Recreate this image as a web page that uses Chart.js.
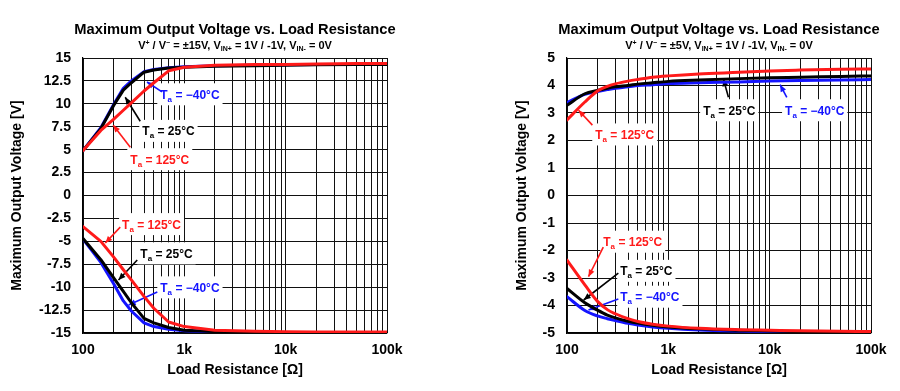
<!DOCTYPE html>
<html>
<head>
<meta charset="utf-8">
<script src="https://cdn.jsdelivr.net/npm/chart.js@4.4.1/dist/chart.umd.min.js"></script>
<style>
  html, body { margin: 0; padding: 0; background: #fff; }
  #wrap { position: relative; width: 900px; height: 391px; }
  .cell { position: absolute; top: 0; width: 450px; height: 391px; }
</style>
</head>
<body>
<div id="wrap">
  <div class="cell" style="left:0"><canvas id="c1" width="450" height="391"></canvas></div>
  <div class="cell" style="left:450px"><canvas id="c2" width="450" height="391"></canvas></div>
</div>
<script>
// ---------------- DATA ----------------
const resistance = [100, 150, 200, 250, 300, 400, 500, 700, 1000, 2000, 5000, 10000, 20000, 50000, 100000];

// Left chart: V+/V- = ±15V
const left_pos_m40 = [4.9, 7.4, 9.9, 11.7, 12.5, 13.5, 13.75, 13.95, 14.05, 14.15, 14.2, 14.25, 14.3, 14.3, 14.35];
const left_pos_25  = [4.9, 7.3, 9.8, 11.5, 12.3, 13.45, 13.7, 13.9, 14.0, 14.1, 14.15, 14.2, 14.25, 14.3, 14.3];
const left_pos_125 = [4.9, 7.1, 8.3, 9.3, 10.1, 11.4, 12.3, 13.6, 14.0, 14.2, 14.3, 14.3, 14.35, 14.4, 14.4];
const left_neg_m40 = [-4.75, -7.3, -9.6, -11.5, -12.6, -13.9, -14.3, -14.6, -14.75, -14.9, -14.95, -14.97, -14.97, -14.97, -14.97];
const left_neg_25  = [-4.7, -7.0, -8.95, -10.45, -11.7, -13.4, -13.9, -14.4, -14.7, -14.85, -14.9, -14.95, -14.95, -14.95, -14.95];
const left_neg_125 = [-3.4, -5.0, -6.7, -8.1, -9.2, -11.0, -12.3, -13.8, -14.3, -14.7, -14.8, -14.85, -14.9, -14.9, -14.9];

// Right chart: V+/V- = ±5V
const right_pos_m40 = [3.38, 3.68, 3.78, 3.85, 3.9, 3.95, 4.0, 4.03, 4.07, 4.1, 4.13, 4.16, 4.18, 4.2, 4.22];
const right_pos_25  = [3.28, 3.7, 3.82, 3.9, 3.95, 4.0, 4.05, 4.1, 4.15, 4.2, 4.25, 4.28, 4.3, 4.33, 4.35];
const right_pos_125 = [2.75, 3.4, 3.8, 3.97, 4.06, 4.16, 4.22, 4.3, 4.35, 4.42, 4.48, 4.53, 4.56, 4.59, 4.6];
const right_neg_m40 = [-3.68, -4.18, -4.38, -4.48, -4.55, -4.65, -4.71, -4.78, -4.83, -4.89, -4.93, -4.95, -4.96, -4.97, -4.98];
const right_neg_25  = [-3.38, -3.9, -4.17, -4.35, -4.45, -4.57, -4.64, -4.72, -4.78, -4.85, -4.9, -4.93, -4.95, -4.96, -4.97];
const right_neg_125 = [-2.35, -3.25, -3.85, -4.15, -4.3, -4.48, -4.58, -4.68, -4.75, -4.83, -4.88, -4.9, -4.92, -4.94, -4.95];

// Ticks
const xTickValues = [100, 1000, 10000, 100000];
const xTickLabels = ['100', '1k', '10k', '100k'];
const yTicksLeft  = [15, 12.5, 10, 7.5, 5, 2.5, 0, -2.5, -5, -7.5, -10, -12.5, -15];
const yTicksRight = [5, 4, 3, 2, 1, 0, -1, -2, -3, -4, -5];

const tempLabels = ['−40°C', '25°C', '125°C'];

// ---------------- STYLE ----------------
const FONT = '"Liberation Sans", Arial, Helvetica, sans-serif';
const BLUE = '#1414ff', BLACK = '#000000', RED = '#ff1a1a';
const tempColors = [BLUE, BLACK, RED];

// Annotation placements (data coordinates: [resistance, voltage])
const annLeft = [
  { k: 0, at: [579, 11.04],  from: [602, 11.3],   to: [428, 12.38] },
  { k: 1, at: [385, 7.05],   from: [367, 8.1],    to: [261, 10.72] },
  { k: 2, at: [293, 3.96],   from: [293, 5.27],   to: [199, 7.67] },
  { k: 2, at: [243, -3.12],  from: [233, -3.45],  to: [166, -5.19] },
  { k: 1, at: [368, -6.31],  from: [343, -7.04],  to: [224, -9.22] },
  { k: 0, at: [579, -10.02], from: [541, -10.53], to: [282, -11.95] }
];
const annRight = [
  { k: 2, at: [190, 2.22],   from: [178, 2.56],   to: [130, 3.1] },
  { k: 1, at: [2206, 3.1],   from: [3919, 3.57],  to: [3499, 4.23] },
  { k: 0, at: [14190, 3.1],  from: [14760, 3.57], to: [12670, 4.03] },
  { k: 2, at: [228, -1.68],  from: [228, -1.88],  to: [163, -2.95] },
  { k: 1, at: [335, -2.74],  from: [321, -2.82],  to: [146, -3.8] },
  { k: 0, at: [335, -3.68],  from: [321, -3.76],  to: [163, -4.16] }
];

// ---------------- PLUGINS ----------------
function drawRich(ctx, parts, x, y, color) {
  let cx = x;
  ctx.fillStyle = color;
  ctx.textBaseline = 'alphabetic';
  ctx.textAlign = 'left';
  for (const p of parts) {
    ctx.font = 'bold ' + p.size + 'px ' + FONT;
    ctx.fillText(p.t, cx, y + (p.dy || 0));
    cx += ctx.measureText(p.t).width;
  }
  return cx - x;
}
function richWidth(ctx, parts) {
  let w = 0;
  for (const p of parts) {
    ctx.font = 'bold ' + p.size + 'px ' + FONT;
    w += ctx.measureText(p.t).width;
  }
  return w;
}

const titlePlugin = {
  id: 'titles',
  afterDraw(chart, args, opts) {
    const ctx = chart.ctx, ca = chart.chartArea;
    const cx = (ca.left + ca.right) / 2;
    ctx.save();
    ctx.font = 'bold 14.7px ' + FONT;
    ctx.fillStyle = '#000';
    ctx.textAlign = 'center';
    ctx.textBaseline = 'middle';
    ctx.fillText(opts.title, cx, 30);
    const w = richWidth(ctx, opts.sub);
    drawRich(ctx, opts.sub, cx - w / 2, 49, '#000');
    ctx.restore();
  }
};

const annotPlugin = {
  id: 'annot',
  beforeDatasetsDraw(chart, args, opts) {
    const ctx = chart.ctx, xs = chart.scales.x, ys = chart.scales.y;
    ctx.save();
    for (const a of opts.items) {
      const color = tempColors[a.k];
      const parts = [
        { t: 'T', size: 12 },
        { t: 'a', size: 8, dy: 3 },
        { t: ' = ' + tempLabels[a.k], size: 12 }
      ];
      const tx = xs.getPixelForValue(a.at[0]);
      const ty = ys.getPixelForValue(a.at[1]);
      const w = richWidth(ctx, parts);
      ctx.fillStyle = '#fff';
      ctx.fillRect(tx - 3, ty - 11, w + 6, 22);
      const x1 = xs.getPixelForValue(a.from[0]), y1 = ys.getPixelForValue(a.from[1]);
      const x2 = xs.getPixelForValue(a.to[0]), y2 = ys.getPixelForValue(a.to[1]);
      ctx.strokeStyle = color;
      ctx.lineWidth = 1.6;
      ctx.beginPath();
      ctx.moveTo(x1, y1);
      ctx.lineTo(x2, y2);
      ctx.stroke();
      const ang = Math.atan2(y2 - y1, x2 - x1);
      const L = 7, H = 3;
      ctx.fillStyle = color;
      ctx.beginPath();
      ctx.moveTo(x2, y2);
      ctx.lineTo(x2 - L * Math.cos(ang) + H * Math.sin(ang), y2 - L * Math.sin(ang) - H * Math.cos(ang));
      ctx.lineTo(x2 - L * Math.cos(ang) - H * Math.sin(ang), y2 - L * Math.sin(ang) + H * Math.cos(ang));
      ctx.closePath();
      ctx.fill();
      drawRich(ctx, parts, tx, ty + 4.5, color);
    }
    ctx.restore();
  }
};

// ---------------- BUILDERS ----------------
function xy(vals) { return resistance.map((r, i) => ({ x: r, y: vals[i] })); }

function makeChart(id, cfg) {
  const xGrid = [];
  for (let d = 100; d < 100000; d *= 10) for (let m = 1; m <= 9; m++) xGrid.push(d * m);
  xGrid.push(100000);

  const ds = (label, vals, color) => ({
    label, data: xy(vals), borderColor: color, backgroundColor: color,
    borderWidth: 3, pointRadius: 0, fill: false,
    tension: cfg.smooth ? 0.4 : 0, cubicInterpolationMode: cfg.smooth ? 'monotone' : 'default',
    borderJoinStyle: 'round', borderCapStyle: 'round'
  });

  return new Chart(document.getElementById(id), {
    type: 'line',
    data: {
      datasets: [
        ds('Ta = 125°C', cfg.pos125, RED),
        ds('Ta = 125°C (neg)', cfg.neg125, RED),
        ds('Ta = 25°C', cfg.pos25, BLACK),
        ds('Ta = 25°C (neg)', cfg.neg25, BLACK),
        ds('Ta = −40°C', cfg.posm40, BLUE),
        ds('Ta = −40°C (neg)', cfg.negm40, BLUE)
      ]
    },
    options: {
      responsive: false,
      devicePixelRatio: 1,
      animation: false,
      layout: { padding: { left: 0, right: cfg.padRight, top: 58, bottom: 0 } },
      plugins: {
        legend: { display: false },
        tooltip: { enabled: false },
        titles: { title: 'Maximum Output Voltage vs. Load Resistance', sub: cfg.sub },
        annot: { items: cfg.ann }
      },
      scales: {
        x: {
          type: 'logarithmic',
          min: 100, max: 100000,
          afterBuildTicks: (s) => { s.ticks = xGrid.map(v => ({ value: v })); },
          afterFit: (s) => { s.height = 58; },
          ticks: {
            autoSkip: false, maxRotation: 0, padding: 9, color: '#000',
            font: { family: FONT, size: 14, weight: 'bold' },
            callback: (v) => { const i = xTickValues.indexOf(v); return i >= 0 ? xTickLabels[i] : ''; }
          },
          grid: { color: '#111', lineWidth: 1, drawTicks: false },
          border: { color: '#000', width: 1.2 },
          title: {
            display: true, text: 'Load Resistance [Ω]', color: '#000',
            font: { family: FONT, size: 14, weight: 'bold' },
            padding: { top: 0, bottom: 12 }
          }
        },
        y: {
          min: cfg.yMin, max: cfg.yMax,
          afterBuildTicks: (s) => { s.ticks = cfg.yTicks.map(v => ({ value: v })); },
          afterFit: (s) => { s.width = cfg.yWidth; },
          ticks: {
            autoSkip: false, padding: 12, color: '#000',
            font: { family: FONT, size: 14, weight: 'bold' },
            callback: (v) => String(v)
          },
          grid: { color: '#111', lineWidth: 1, drawTicks: false },
          border: { color: '#000', width: 1.2 },
          title: {
            display: true, text: 'Maximum Output Voltage [V]', color: '#000',
            font: { family: FONT, size: 14, weight: 'bold' },
            padding: { top: cfg.yTitlePad, bottom: 0 }
          }
        }
      }
    },
    plugins: [titlePlugin, annotPlugin]
  });
}

function subParts(v) {
  return [
    { t: 'V', size: 11 }, { t: '+', size: 7, dy: -4 }, { t: ' / V', size: 11 }, { t: '−', size: 7, dy: -4 },
    { t: ' = ±' + v + 'V, V', size: 11 }, { t: 'IN+', size: 7, dy: 2 },
    { t: ' = 1V / -1V, V', size: 11 }, { t: 'IN-', size: 7, dy: 2 }, { t: ' = 0V', size: 11 }
  ];
}

makeChart('c1', {
  pos125: left_pos_125, neg125: left_neg_125, pos25: left_pos_25, neg25: left_neg_25,
  posm40: left_pos_m40, negm40: left_neg_m40,
  yMin: -15, yMax: 15, yTicks: yTicksLeft, yWidth: 83, padRight: 63, yTitlePad: 8.6,
  smooth: false, ann: annLeft, sub: subParts(15)
});
makeChart('c2', {
  pos125: right_pos_125, neg125: right_neg_125, pos25: right_pos_25, neg25: right_neg_25,
  posm40: right_pos_m40, negm40: right_neg_m40,
  yMin: -5, yMax: 5, yTicks: yTicksRight, yWidth: 117, padRight: 29, yTitlePad: 63.3,
  smooth: true, ann: annRight, sub: subParts(5)
});
</script>
</body>
</html>
